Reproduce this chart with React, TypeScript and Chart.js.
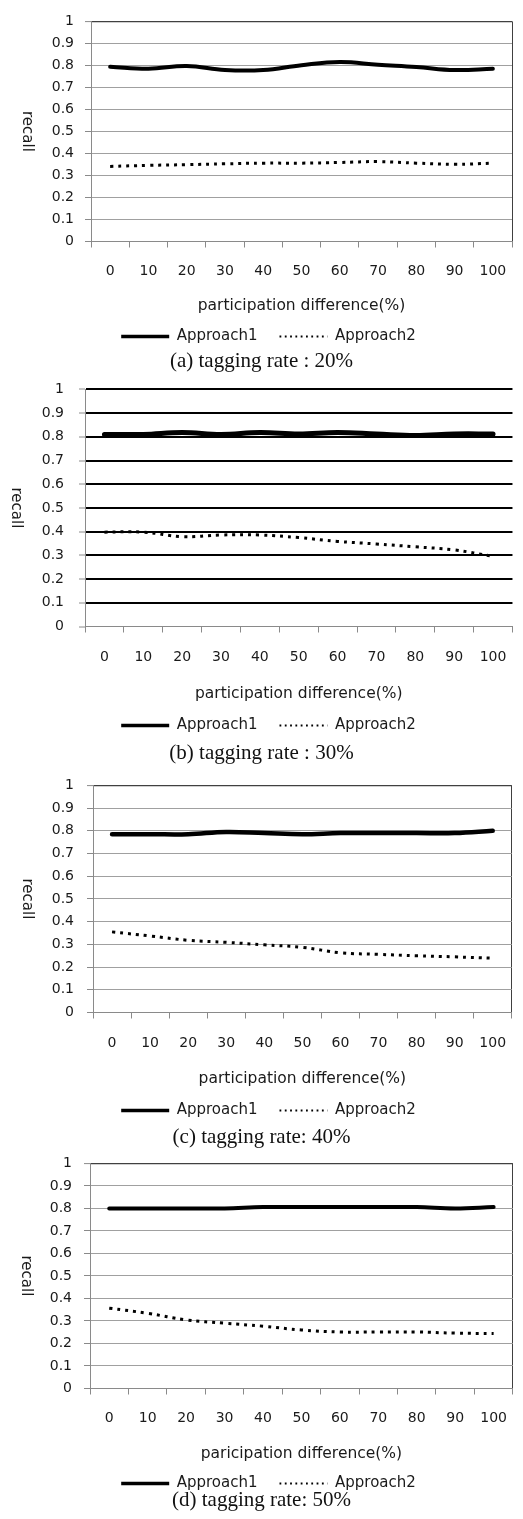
import React, { useEffect, useRef } from 'react';
import { Chart, registerables } from 'chart.js';

Chart.register(...registerables);

const CATEGORIES = ['0', '10', '20', '30', '40', '50', '60', '70', '80', '90', '100'];
const Y_MIN = 0;
const Y_MAX = 1;
const Y_STEP = 0.1;
const SERIES_NAMES = ['Approach1', 'Approach2'];
const Y_TITLE = 'recall';
const X_TITLES = [
  'participation difference(%)',
  'participation difference(%)',
  'participation difference(%)',
  'paricipation difference(%)',
];
const CAPTIONS = [
  '(a) tagging rate : 20%',
  '(b) tagging rate : 30%',
  '(c) tagging rate: 40%',
  '(d) tagging rate: 50%',
];

const A1_20 = [0.794, 0.785, 0.797, 0.779, 0.779, 0.801, 0.815, 0.803, 0.793, 0.779, 0.785];
const A2_20 = [0.341, 0.346, 0.349, 0.353, 0.356, 0.356, 0.359, 0.363, 0.356, 0.351, 0.356];
const A1_30 = [0.81, 0.81, 0.818, 0.81, 0.818, 0.812, 0.818, 0.812, 0.806, 0.812, 0.812];
const A2_30 = [0.398, 0.398, 0.379, 0.386, 0.386, 0.375, 0.359, 0.348, 0.336, 0.323, 0.296];
const A1_40 = [0.785, 0.785, 0.785, 0.795, 0.79, 0.785, 0.79, 0.79, 0.79, 0.79, 0.8];
const A2_40 = [0.355, 0.337, 0.318, 0.309, 0.298, 0.287, 0.263, 0.256, 0.25, 0.245, 0.239];
const A1_50 = [0.8, 0.8, 0.8, 0.8, 0.806, 0.806, 0.806, 0.806, 0.806, 0.8, 0.806];
const A2_50 = [0.357, 0.334, 0.305, 0.29, 0.277, 0.26, 0.251, 0.251, 0.251, 0.246, 0.244];

const FONT = 'DejaVu Sans';
const TEXT = '#1a1a1a';
const CANVAS_W = 523;
const LEGEND_CENTER = 268.5;
const LEGEND_PAD = 22;
const LEGEND_FONT = 15;
const TICK_FONT = 14;
const TITLE_FONT = 15.5;
const PAD_TOP = 12;

type Panel = {
  top: number; bottom: number; left: number; right: number;
  labelY: number; titleY: number; legendY: number; captionY: number;
  yTickPad: number; recallX: number;
  gridColor: string; gridWidth: number; frameColor: string; rightFrame: boolean;
  a1Width: number; a1: number[]; a2: number[]; xTitle: string; caption: string;
};

const PANELS: Panel[] = [
  { top: 14, bottom: 241, left: 91, right: 512, labelY: 271, titleY: 305, legendY: 336, captionY: 360,
    yTickPad: 11, recallX: 26.5, gridColor: '#a0a0a0', gridWidth: 1, frameColor: '#404040', rightFrame: true,
    a1Width: 4, a1: A1_20, a2: A2_20, xTitle: X_TITLES[0], caption: CAPTIONS[0] },
  { top: 378, bottom: 626, left: 85, right: 523, labelY: 657, titleY: 693, legendY: 725, captionY: 752,
    yTickPad: 15, recallX: 16, gridColor: '#000000', gridWidth: 2, frameColor: '#000000', rightFrame: false,
    a1Width: 5, a1: A1_30, a2: A2_30, xTitle: X_TITLES[1], caption: CAPTIONS[1] },
  { top: 776, bottom: 1012, left: 93, right: 516, labelY: 1043, titleY: 1078, legendY: 1110, captionY: 1136,
    yTickPad: 13, recallX: 27, gridColor: '#a0a0a0', gridWidth: 1, frameColor: '#404040', rightFrame: true,
    a1Width: 4.5, a1: A1_40, a2: A2_40, xTitle: X_TITLES[2], caption: CAPTIONS[2] },
  { top: 1155, bottom: 1388, left: 90, right: 514, labelY: 1418, titleY: 1453, legendY: 1483, captionY: 1499,
    yTickPad: 12, recallX: 25.5, gridColor: '#a0a0a0', gridWidth: 1, frameColor: '#404040', rightFrame: true,
    a1Width: 4, a1: A1_50, a2: A2_50, xTitle: X_TITLES[3], caption: CAPTIONS[3] },
];

function layoutOf(p: Panel) {
  const padRight = CANVAS_W - p.right;
  const padLeft = Math.round(2 * LEGEND_CENTER - p.right);
  const yWidth = p.left - padLeft;
  const legendTop = p.legendY - LEGEND_PAD - LEGEND_FONT / 2;
  const xHeight = legendTop - p.bottom;
  const legendH = LEGEND_FONT + LEGEND_PAD + 10;
  const canvasTop = p.top - PAD_TOP;
  const canvasH = Math.ceil(PAD_TOP + (p.bottom - p.top) + xHeight + legendH);
  const xTickPad = p.labelY - p.bottom - 6 - TICK_FONT * 1.2 / 2;
  const titlePadBottom = p.bottom + xHeight - TITLE_FONT * 1.2 / 2 - p.titleY;
  return { padRight, padLeft, yWidth, xHeight, canvasTop, canvasH, xTickPad, titlePadBottom };
}

function PanelChart({ p }: { p: Panel }) {
  const ref = useRef<HTMLCanvasElement | null>(null);
  const L = layoutOf(p);
  useEffect(() => {
    if (!ref.current) return;
    const recallPlugin = {
      id: 'recallTitle',
      afterDraw(chart: any) {
        const { ctx, chartArea } = chart;
        ctx.save();
        ctx.translate(p.recallX, (chartArea.top + chartArea.bottom) / 2);
        ctx.rotate(Math.PI / 2);
        ctx.fillStyle = TEXT;
        ctx.font = `15px "${FONT}"`;
        ctx.textAlign = 'center';
        ctx.textBaseline = 'middle';
        ctx.fillText(Y_TITLE, 0, 0);
        ctx.restore();
      },
    };
    const chart = new Chart(ref.current, {
      type: 'line',
      data: {
        labels: CATEGORIES,
        datasets: [
          {
            label: SERIES_NAMES[0], data: p.a1, borderColor: '#000', backgroundColor: '#000',
            borderWidth: p.a1Width, pointRadius: 0, pointStyle: 'line', tension: 0.4, fill: false,
            borderCapStyle: 'round',
          },
          {
            label: SERIES_NAMES[1], data: p.a2, borderColor: '#000', backgroundColor: '#000',
            borderWidth: 3, borderDash: [3, 5], pointRadius: 0, pointStyle: 'line', tension: 0.4, fill: false,
          },
        ],
      },
      options: {
        animation: false,
        responsive: false,
        devicePixelRatio: 1,
        layout: { padding: { top: PAD_TOP, left: L.padLeft, right: L.padRight, bottom: 0 } },
        plugins: {
          tooltip: { enabled: false },
          legend: {
            display: true,
            position: 'bottom',
            labels: {
              usePointStyle: true,
              pointStyleWidth: 48,
              padding: LEGEND_PAD,
              color: TEXT,
              font: { family: FONT, size: LEGEND_FONT },
              generateLabels: (c: any) => {
                const items = (Chart.defaults.plugins.legend.labels as any).generateLabels(c);
                items.forEach((it: any, i: number) => {
                  it.pointStyle = 'line';
                  it.strokeStyle = '#000';
                  it.lineWidth = i === 0 ? 3.5 : 1.8;
                  it.lineDash = i === 0 ? [] : [1.8, 3.5];
                  it.lineCap = 'butt';
                });
                return items;
              },
            },
          },
        },
        scales: {
          x: {
            type: 'category',
            offset: true,
            afterFit: (s: any) => { s.height = L.xHeight; },
            grid: {
              offset: true,
              drawOnChartArea: true,
              drawTicks: true,
              tickLength: 6,
              tickColor: '#8a8a8a',
              tickWidth: 1,
              color: (ctx: any) => (ctx.type === 'scale' && p.rightFrame ? p.frameColor : 'rgba(0,0,0,0)'),
              lineWidth: 1,
            },
            border: { color: '#8a8a8a', width: 1 },
            ticks: {
              color: TEXT, font: { family: FONT, size: TICK_FONT }, padding: L.xTickPad,
              maxRotation: 0, autoSkip: false,
            },
            title: {
              display: true, text: p.xTitle, color: TEXT, font: { family: FONT, size: TITLE_FONT },
              padding: { top: 0, bottom: L.titlePadBottom },
            },
          },
          y: {
            type: 'linear',
            min: Y_MIN,
            max: Y_MAX,
            afterFit: (s: any) => { s.width = L.yWidth; },
            grid: {
              drawTicks: true,
              tickLength: 6,
              tickColor: '#8a8a8a',
              tickWidth: 1,
              color: (ctx: any) => {
                const v = ctx.tick ? Math.round(ctx.tick.value * 10) / 10 : -1;
                if (v === 0) return 'rgba(0,0,0,0)';
                if (v === 1) return p.frameColor;
                return p.gridColor;
              },
              lineWidth: (ctx: any) => {
                const v = ctx.tick ? Math.round(ctx.tick.value * 10) / 10 : -1;
                return v === 1 && p.gridWidth === 1 ? 1.2 : p.gridWidth;
              },
            },
            border: { color: '#8a8a8a', width: 1 },
            ticks: {
              stepSize: Y_STEP,
              color: TEXT,
              font: { family: FONT, size: TICK_FONT },
              padding: p.yTickPad,
              callback: (v: any) => String(Math.round(Number(v) * 10) / 10),
            },
          },
        },
      },
      plugins: [recallPlugin],
    } as any);
    return () => chart.destroy();
  }, []);
  return (
    <>
      <canvas
        ref={ref}
        width={CANVAS_W}
        height={L.canvasH}
        style={{ position: 'absolute', left: 0, top: L.canvasTop, width: CANVAS_W, height: L.canvasH }}
      />
      <div
        style={{
          position: 'absolute', left: 0, top: p.captionY - 12, width: CANVAS_W, height: 24,
          lineHeight: '24px', textAlign: 'center', fontFamily: '"Liberation Serif", serif',
          fontSize: 21, color: '#111', whiteSpace: 'nowrap',
        }}
      >
        {p.caption}
      </div>
    </>
  );
}

export default function App() {
  return (
    <div style={{ position: 'absolute', left: 0, top: 0, width: CANVAS_W, height: 1519, overflow: 'hidden', background: '#fff' }}>
      {PANELS.map((p, i) => (
        <PanelChart key={i} p={p} />
      ))}
    </div>
  );
}
